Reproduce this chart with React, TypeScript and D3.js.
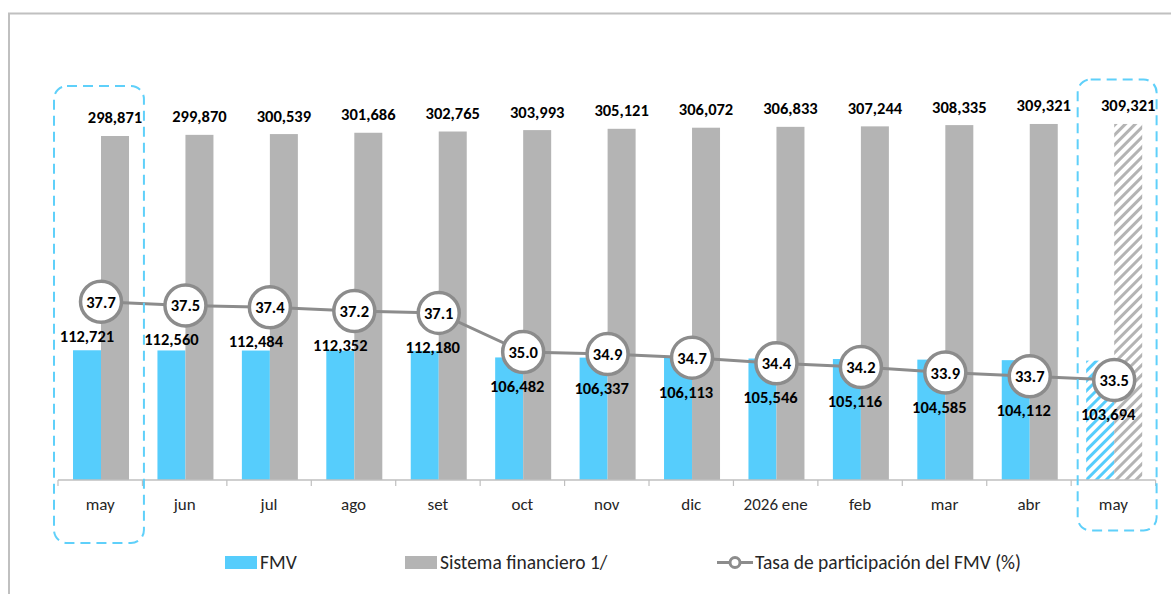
import * as React from 'react'
import * as d3 from 'd3'

const categories = ['may', 'jun', 'jul', 'ago', 'set', 'oct', 'nov', 'dic', '2026 ene', 'feb', 'mar', 'abr', 'may']
const fmv = [112721, 112560, 112484, 112352, 112180, 106482, 106337, 106113, 105546, 105116, 104585, 104112, 103694]
const sistema = [298871, 299870, 300539, 301686, 302765, 303993, 305121, 306072, 306833, 307244, 308335, 309321, 309321]
const tasa = [37.7, 37.5, 37.4, 37.2, 37.1, 35.0, 34.9, 34.7, 34.4, 34.2, 33.9, 33.7, 33.5]

const W = 1171
const H = 594
const BLUE = '#56cdfc'
const GRAY = '#b4b4b4'
const LINE = '#8c8c8c'
const FONT = "Carlito, Lato, sans-serif"

const App = () => {
  const idx = categories.map((_, i) => String(i))
  const x = d3.scaleBand().domain(idx).range([58, 1155.6]).padding(0)
  const bw = x.bandwidth()
  const base = 480
  const y = d3.scaleLinear().domain([0, 300000]).range([base, base - 345.3])
  const yr = d3.scaleLinear().domain([33.5, 37.7]).range([380, 301.7])
  const cx = (i: number) => (x(String(i)) as number) + bw / 2 + 0.8
  const last = categories.length - 1
  const fmt = d3.format(',')

  const linePath = d3.line<number>()
    .x((_, i) => cx(i))
    .y(d => yr(d))(tasa) as string

  const boundaries = d3.range(categories.length + 1).map(i => 58 + i * bw)

  const x0 = x('0') as number
  const xl = x(String(last)) as number

  return (
    <svg width={W} height={H} style={{ position: 'absolute', left: 0, top: 0, background: '#fff' }}
      fontFamily={FONT}>
      <defs>
        <pattern id="hatchGray" width="7" height="7" patternUnits="userSpaceOnUse" patternTransform="rotate(45)">
          <rect width="7" height="7" fill="#fff" />
          <line x1="1.5" y1="0" x2="1.5" y2="7" stroke={GRAY} strokeWidth="3" />
        </pattern>
        <pattern id="hatchBlue" width="7" height="7" patternUnits="userSpaceOnUse" patternTransform="rotate(45)">
          <rect width="7" height="7" fill="#fff" />
          <line x1="1.5" y1="0" x2="1.5" y2="7" stroke={BLUE} strokeWidth="3" />
        </pattern>
      </defs>

      {/* outer frame */}
      <line x1={8} x2={W} y1={13.5} y2={13.5} stroke="#c0c0c0" strokeWidth={2} />
      <line x1={9} x2={9} y1={13} y2={H} stroke="#c0c0c0" strokeWidth={2} />

      {/* bars */}
      {fmv.map((v, i) => (
        <rect key={'f' + i} x={cx(i) - 28} y={y(v)} width={28} height={base - y(v)}
          fill={i === last ? 'url(#hatchBlue)' : BLUE} />
      ))}
      {sistema.map((v, i) => (
        <rect key={'s' + i} x={cx(i)} y={y(v)} width={28} height={base - y(v)}
          fill={i === last ? 'url(#hatchGray)' : GRAY} />
      ))}

      {/* axis */}
      <line x1={58} x2={boundaries[boundaries.length - 1]} y1={base} y2={base} stroke="#bfbfbf" strokeWidth={1.5} />
      {boundaries.map((b, i) => (
        <line key={'t' + i} x1={b} x2={b} y1={base} y2={base + 6} stroke="#bfbfbf" strokeWidth={1.2} />
      ))}
      {categories.map((c, i) => (
        <text key={'c' + i} x={cx(i) - 0.8} y={509.5} textAnchor="middle" fontSize={17} fill="#262626">{c}</text>
      ))}

      {/* sistema labels */}
      {sistema.map((v, i) => (
        <text key={'sl' + i} x={cx(i) + 14} y={y(v) - 12.5} textAnchor="middle" fontSize={16.5}
          fontWeight="bold" fill="#000">{fmt(v)}</text>
      ))}

      {/* rate line */}
      <path d={linePath} fill="none" stroke={LINE} strokeWidth={3} />
      {tasa.map((v, i) => (
        <g key={'r' + i}>
          <circle cx={cx(i)} cy={yr(v)} r={20.5} fill="#fff" stroke={LINE} strokeWidth={3.5} />
          <text x={cx(i)} y={yr(v) + 6} textAnchor="middle" fontSize={16.5} fontWeight="bold" fill="#000">
            {v.toFixed(1)}
          </text>
        </g>
      ))}

      {/* fmv labels */}
      {fmv.map((v, i) => (
        <text key={'fl' + i} x={cx(i) - 14 + (i < 4 ? 0 : 8)} y={yr(tasa[i]) + 40} textAnchor="middle"
          fontSize={16.5} fontWeight="bold" fill="#000">{fmt(v)}</text>
      ))}

      {/* highlight boxes */}
      <rect x={x0 - 4} y={86} width={bw + 5.5} height={457} rx={13} fill="none"
        stroke="#5fd0fa" strokeWidth={2} strokeDasharray="10 6" />
      <rect x={xl + 6.5} y={79.5} width={bw - 5.5} height={451} rx={13} fill="none"
        stroke="#5fd0fa" strokeWidth={2} strokeDasharray="10 6" />

      {/* legend */}
      <rect x={225} y={556} width={32} height={13} fill={BLUE} />
      <text x={260} y={569} fontSize={19.5} fill="#262626">FMV</text>
      <rect x={405} y={556} width={32} height={13} fill={GRAY} />
      <text x={440} y={569} fontSize={19.5} fill="#262626">Sistema financiero 1/</text>
      <line x1={717} x2={753} y1={562.5} y2={562.5} stroke={LINE} strokeWidth={3} />
      <circle cx={735} cy={562.5} r={5} fill="#fff" stroke={LINE} strokeWidth={3} />
      <text x={755} y={569} fontSize={19.5} fill="#262626">Tasa de participación del FMV (%)</text>
    </svg>
  )
}

export default App
